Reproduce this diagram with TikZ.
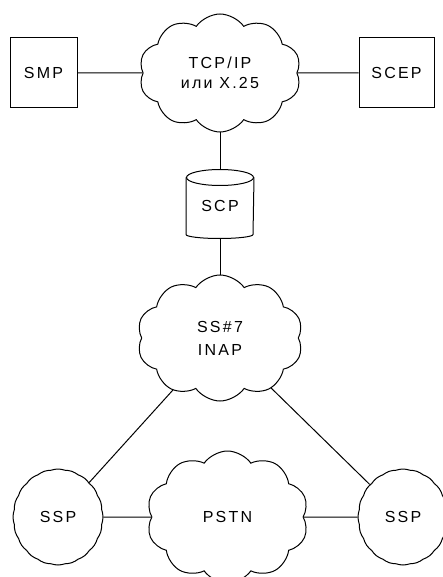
\documentclass[tikz,border=0pt]{standalone}
\usepackage{fontspec}
\setmainfont{Liberation Sans}[LetterSpace=14]
\usetikzlibrary{shapes.symbols}

\begin{document}
\begin{tikzpicture}[
  x=1pt,
  y=-1pt,
  line width=1pt,
  font=\fontsize{16}{20}\selectfont
]

  % styles for boxes, networks and switching points
  \tikzset{
    unit/.style={draw, rectangle, inner sep=0pt},
    net/.style={draw, cloud, cloud puffs=10, cloud puff arc=110,
      cloud ignores aspect, inner sep=0pt, align=center},
    switch/.style={draw, cloud, cloud puffs=20, cloud puff arc=40,
      cloud ignores aspect, inner sep=0pt, minimum width=90pt, minimum height=96pt}
  }

  \useasboundingbox (0,0) rectangle (442,577);

  % management level
  \node[unit, minimum width=67pt, minimum height=70pt] (smp) at (43.5,73) {SMP};
  \node[net, minimum width=162pt, minimum height=118pt] (tcpip) at (220,73) {TCP/IP\\или X.25};
  \node[unit, minimum width=75pt, minimum height=70pt] (scep) at (396.5,73) {SCEP};

  % service control point (cylinder)
  \node[inner sep=0pt, minimum width=67pt, minimum height=56pt] (scp) at (220,206) {SCP};
  \draw (scp.north west) -- (scp.south west)
    arc[start angle=180, end angle=360, x radius=33.5pt, y radius=4pt]
    -- (scp.north east);
  \draw (scp.north) ellipse[x radius=33.5pt, y radius=8pt];
  \coordinate (scptop) at ([yshift=8pt]scp.north);
  \coordinate (scpbot) at ([yshift=-4pt]scp.south);

  % signalling network
  \node[net, minimum width=166pt, minimum height=126pt] (ss7) at (220,338) {SS\#7\\[3pt]INAP};

  % switching level
  \node[switch] (sspl) at (58,517) {SSP};
  \node[net, minimum width=162pt, minimum height=132pt] (pstn) at (227.5,517) {PSTN};
  \node[switch] (sspr) at (403,517) {SSP};

  % connections
  \draw (smp) -- (tcpip);
  \draw (tcpip) -- (scep);
  \draw (tcpip) -- (scptop);
  \draw (scpbot) -- (ss7);
  \draw (ss7) -- (sspl);
  \draw (ss7) -- (sspr);
  \draw (sspl) -- (pstn);
  \draw (pstn) -- (sspr);

\end{tikzpicture}
\end{document}
